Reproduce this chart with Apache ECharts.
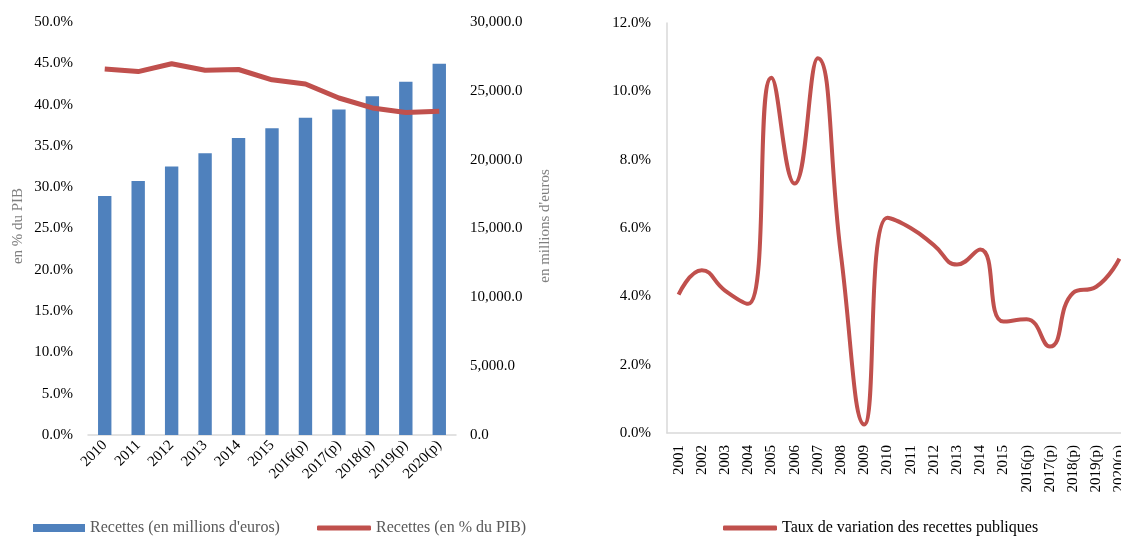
<!DOCTYPE html>
<html>
<head>
<meta charset="utf-8">
<script src="https://cdn.jsdelivr.net/npm/echarts@6/dist/echarts.min.js"></script>
<style>
html,body{margin:0;padding:0;background:#fff;}
#chart{width:1121px;height:536px;}
</style>
</head>
<body>
<div id="chart"></div>
<script>
// ---- Data ----
const leftCategories = ['2010','2011','2012','2013','2014','2015','2016(p)','2017(p)','2018(p)','2019(p)','2020(p)'];
const recettesMillions = [17365, 18450, 19500, 20470, 21580, 22290, 23050, 23650, 24600, 25660, 26970];
const recettesPctPIB = [44.3, 44.0, 44.95, 44.15, 44.25, 43.0, 42.5, 40.8, 39.6, 39.05, 39.2];
const rightCategories = ['2001','2002','2003','2004','2005','2006','2007','2008','2009','2010','2011','2012','2013','2014','2015','2016(p)','2017(p)','2018(p)','2019(p)','2020(p)'];
const tauxVariation = [4.05, 4.76, 4.17, 3.78, 10.4, 7.3, 10.97, 5.2, 0.25, 6.3, 6.0, 5.5, 4.93, 5.37, 3.26, 3.33, 2.53, 4.1, 4.28, 5.1];
const nameBar = "Recettes (en millions d'euros)";
const nameLine = "Recettes (en % du PIB)";
const nameTaux = "Taux de variation des recettes publiques";
const leftAxisTitle = "en % du PIB";
const rightAxisTitle = "en millions d'euros";

const FONT = '"Liberation Serif", "DejaVu Serif", serif';
const BLUE = '#4F81BD';
const RED = '#C0504D';
const AXIS = '#D9D9D9';

function fmtThousands(v) {
  const s = Math.round(v).toString().replace(/\B(?=(\d{3})+(?!\d))/g, ',');
  return s + '.0';
}

const chart = echarts.init(document.getElementById('chart'), null, {renderer: 'canvas'});
chart.setOption({
  animation: false,
  backgroundColor: '#fff',
  textStyle: {fontFamily: FONT},
  grid: [
    {left: 88, right: 665, top: 22, bottom: 101, outerBoundsMode: 'none', containLabel: false},
    {left: 667, width: 464, top: 23, bottom: 103, outerBoundsMode: 'none', containLabel: false}
  ],
  xAxis: [
    {
      type: 'category', gridIndex: 0, data: leftCategories,
      axisLine: {lineStyle: {color: AXIS, width: 1.5}},
      axisTick: {show: false},
      axisLabel: {rotate: 45, color: '#000', fontFamily: FONT, fontSize: 15, margin: 8, interval: 0}
    },
    {
      type: 'category', gridIndex: 1, data: rightCategories,
      axisLine: {lineStyle: {color: AXIS, width: 1.5}},
      axisTick: {show: false},
      axisLabel: {rotate: 90, color: '#000', fontFamily: FONT, fontSize: 15, margin: 12, interval: 0}
    }
  ],
  yAxis: [
    {
      type: 'value', gridIndex: 0, min: 0, max: 50, interval: 5,
      axisLine: {show: false}, axisTick: {show: false}, splitLine: {show: false},
      axisLabel: {color: '#000', fontFamily: FONT, fontSize: 15, margin: 15,
        formatter: v => v.toFixed(1) + '%'}
    },
    {
      type: 'value', gridIndex: 0, min: 0, max: 30000, interval: 5000, position: 'right',
      axisLine: {show: false}, axisTick: {show: false}, splitLine: {show: false},
      axisLabel: {color: '#000', fontFamily: FONT, fontSize: 15, margin: 14,
        formatter: v => fmtThousands(v)}
    },
    {
      type: 'value', gridIndex: 1, min: 0, max: 12, interval: 2,
      axisLine: {show: true, lineStyle: {color: AXIS, width: 1.5}}, axisTick: {show: false}, splitLine: {show: false},
      axisLabel: {color: '#000', fontFamily: FONT, fontSize: 15, margin: 16,
        formatter: v => v.toFixed(1) + '%'}
    }
  ],
  legend: [
    {
      data: [{name: nameBar, icon: 'rect'}],
      left: 33, top: 520, padding: 0, itemWidth: 52, itemHeight: 8, itemGap: 4,
      textStyle: {fontFamily: FONT, fontSize: 16, color: '#595959'}
    },
    {
      data: [{name: nameLine, icon: 'roundRect'}],
      left: 317, top: 520, padding: 0, itemWidth: 54, itemHeight: 5,
      textStyle: {fontFamily: FONT, fontSize: 16, color: '#595959'}
    },
    {
      data: [{name: nameTaux, icon: 'roundRect'}],
      left: 723, top: 520, padding: 0, itemWidth: 54, itemHeight: 5,
      textStyle: {fontFamily: FONT, fontSize: 16, color: '#000'}
    }
  ],
  graphic: [
    {type: 'text', x: 18, y: 226, rotation: Math.PI / 2,
      style: {text: leftAxisTitle, font: '15px ' + FONT, fill: '#7F7F7F', align: 'center', verticalAlign: 'middle'}},
    {type: 'text', x: 545, y: 226, rotation: Math.PI / 2,
      style: {text: rightAxisTitle, font: '15px ' + FONT, fill: '#7F7F7F', align: 'center', verticalAlign: 'middle'}}
  ],
  series: [
    {
      name: nameBar, type: 'bar', xAxisIndex: 0, yAxisIndex: 1,
      data: recettesMillions, barWidth: '40%',
      itemStyle: {color: BLUE}
    },
    {
      name: nameLine, type: 'line', xAxisIndex: 0, yAxisIndex: 0,
      data: recettesPctPIB, symbol: 'none',
      lineStyle: {color: RED, width: 5}, itemStyle: {color: RED}
    },
    {
      name: nameTaux, type: 'line', xAxisIndex: 1, yAxisIndex: 2,
      data: tauxVariation, symbol: 'none', smooth: 0.5,
      lineStyle: {color: RED, width: 4}, itemStyle: {color: RED}
    }
  ]
});
</script>
</body>
</html>
